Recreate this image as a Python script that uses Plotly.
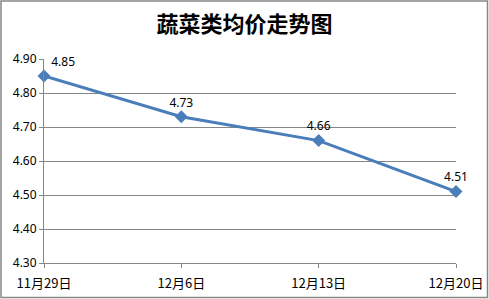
import plotly.graph_objects as go

categories = ["11月29日", "12月6日", "12月13日", "12月20日"]
values = [4.85, 4.73, 4.66, 4.51]
label_text = ["4.85", "4.73", "4.66", "4.51"]
text_pos = ["top right", "top center", "top center", "top center"]
y_ticks = [4.30, 4.40, 4.50, 4.60, 4.70, 4.80, 4.90]

W, H = 489, 299
L, R, T, B = 44, 33, 59, 36
pw, ph = W - L - R, H - T - B

fig = go.Figure()
fig.add_trace(go.Scatter(
    x=categories, y=values, mode="lines+markers+text",
    text=label_text, textposition=text_pos,
    textfont=dict(family="Noto Sans, Noto Sans CJK SC", size=12, color="#000000"),
    line=dict(color="#4a7ebb", width=3),
    marker=dict(symbol="diamond", size=10, color="#4a7ebb"),
    cliponaxis=False, showlegend=False,
))

gray = "#868686"
fig.update_layout(
    width=W, height=H,
    margin=dict(l=L, r=R, t=T, b=B),
    paper_bgcolor="white", plot_bgcolor="white",
    title=dict(text="<b>蔬菜类均价走势图</b>", x=0.5, xanchor="center", y=1 - 24 / H, yanchor="middle",
               font=dict(family="Noto Sans CJK SC", size=22, color="#000000")),
    xaxis=dict(type="category", range=[0, 3], showgrid=False, showline=True, linecolor=gray, linewidth=1,
               ticks="outside", ticklen=4, tickcolor=gray, zeroline=False, automargin=False,
               ticklabelstandoff=4,
               tickfont=dict(family="Noto Sans CJK SC", size=13, color="#000000")),
    yaxis=dict(range=[4.30, 4.90], tickvals=y_ticks, tickformat=".2f", showgrid=True, gridcolor=gray,
               gridwidth=1, showline=True, linecolor=gray, linewidth=1, ticks="outside", ticklen=4,
               tickcolor=gray, zeroline=False, automargin=False,
               tickfont=dict(family="Noto Sans, Noto Sans CJK SC", size=12, color="#000000")),
    shapes=[dict(type="rect", xref="paper", yref="paper",
                 x0=(1 - L) / pw, x1=(W - 1.5 - L) / pw,
                 y0=-(B - 1.5) / ph, y1=(H - B - 1) / ph,
                 line=dict(color=gray, width=1.5), fillcolor="rgba(0,0,0,0)", layer="below")],
)

fig.write_html("out.html")
